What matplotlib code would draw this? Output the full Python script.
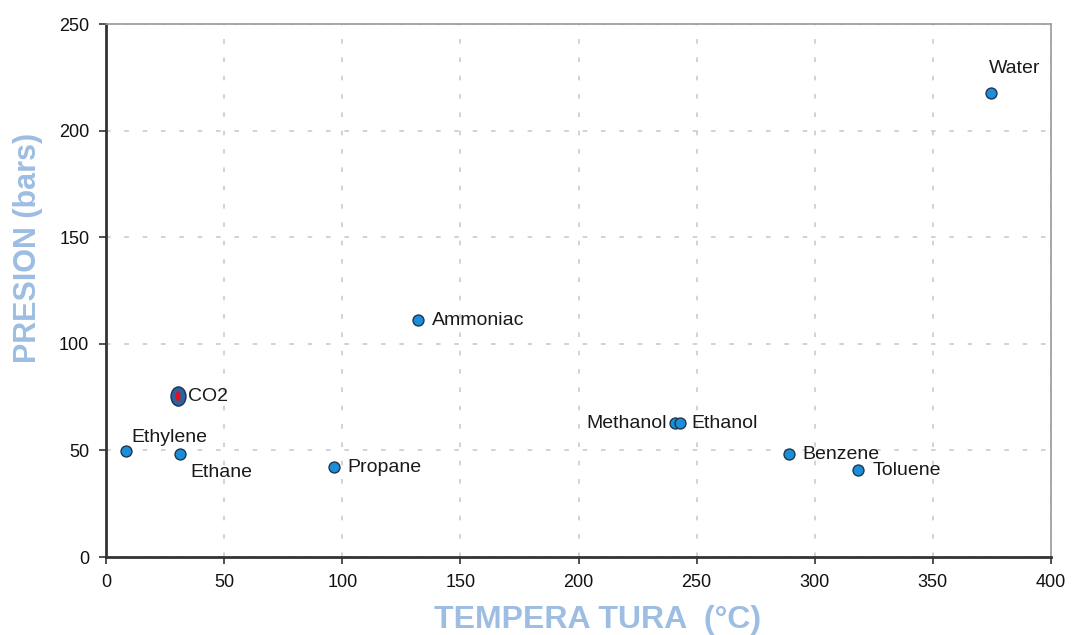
import matplotlib
matplotlib.use("Agg")
import matplotlib.pyplot as plt
from matplotlib.path import Path
from matplotlib.transforms import Affine2D

# critical points (temperature degC, pressure bar)
names = ["Water", "Ammoniac", "CO2", "Ethylene", "Ethane", "Propane",
         "Methanol", "Ethanol", "Benzene", "Toluene"]
temps = [374.5, 132.2, 30.5, 8.5, 31.5, 96.5, 240.8, 243.0, 289.0, 318.5]
press = [217.5, 111.0, 75.5, 49.6, 48.2, 42.1, 62.8, 62.8, 48.2, 40.7]

x_ticks = [0, 50, 100, 150, 200, 250, 300, 350, 400]
y_ticks = [0, 50, 100, 150, 200, 250]

# label offsets in pixels, and alignment
label_pos = {
    "Water": (-2, 25, "left"),
    "Ammoniac": (14, 0, "left"),
    "CO2": (10, 0, "left"),
    "Ethylene": (5, 14, "left"),
    "Ethane": (10, -18, "left"),
    "Propane": (13, 0, "left"),
    "Methanol": (-8, 0, "right"),
    "Ethanol": (11, 0, "left"),
    "Benzene": (14, 0, "left"),
    "Toluene": (14, 0, "left"),
}

plt.rcParams["font.family"] = ["Liberation Sans", "DejaVu Sans"]

fig = plt.figure(figsize=(10.74, 6.35), dpi=100)
ax = fig.add_axes([0.0987, 0.1228, 0.8799, 0.8392])

ax.set_xlim(0, 400)
ax.set_ylim(0, 250)
ax.set_xticks(x_ticks)
ax.set_yticks(y_ticks)
ax.tick_params(direction="out", length=5, width=1.2, color="#333333",
               labelsize=13, labelcolor="#111111", pad=7)

ax.grid(True, color="#c6c6c6", linestyle=(0, (3, 9)), linewidth=1.1)
ax.set_axisbelow(True)

for side in ["left", "bottom"]:
    ax.spines[side].set_color("#333333")
    ax.spines[side].set_linewidth(2)
for side in ["top", "right"]:
    ax.spines[side].set_color("#999999")
    ax.spines[side].set_linewidth(1.2)

i = names.index("CO2")
others = [k for k in range(len(names)) if k != i]
ax.scatter([temps[k] for k in others], [press[k] for k in others], s=62,
           color="#1a8fd8", edgecolors="#1f3552", linewidths=1.0, zorder=3)

# CO2 drawn as a taller oval with a red centre
oval = Path.unit_circle().transformed(Affine2D().scale(0.78, 1.0))
slim = Path.unit_circle().transformed(Affine2D().scale(0.5, 1.0))
ax.scatter([temps[i]], [press[i]], s=190, marker=oval, color="#2f5f9c",
           edgecolors="#1f3552", linewidths=1.0, zorder=4)
ax.scatter([temps[i]], [press[i]], s=50, marker=slim, color="#e0101c",
           edgecolors="none", zorder=5)

for name, t, p in zip(names, temps, press):
    dx, dy, ha = label_pos[name]
    ax.annotate(name, (t, p), xytext=(dx, dy), textcoords="offset pixels",
                ha=ha, va="center", fontsize=14, color="#1a1a1a", zorder=6)

lab_color = "#9dbde2"
ax.set_xlabel("TEMPERA TURA  (°C)", fontsize=23, fontweight="bold",
              color=lab_color, va="center")
ax.xaxis.set_label_coords(0.52, -0.118)
ax.set_ylabel("PRESION (bars)", fontsize=22, fontweight="bold",
              color=lab_color, va="center")
ax.yaxis.set_label_coords(-0.083, 0.58)

fig.savefig("out.png", dpi=100)
